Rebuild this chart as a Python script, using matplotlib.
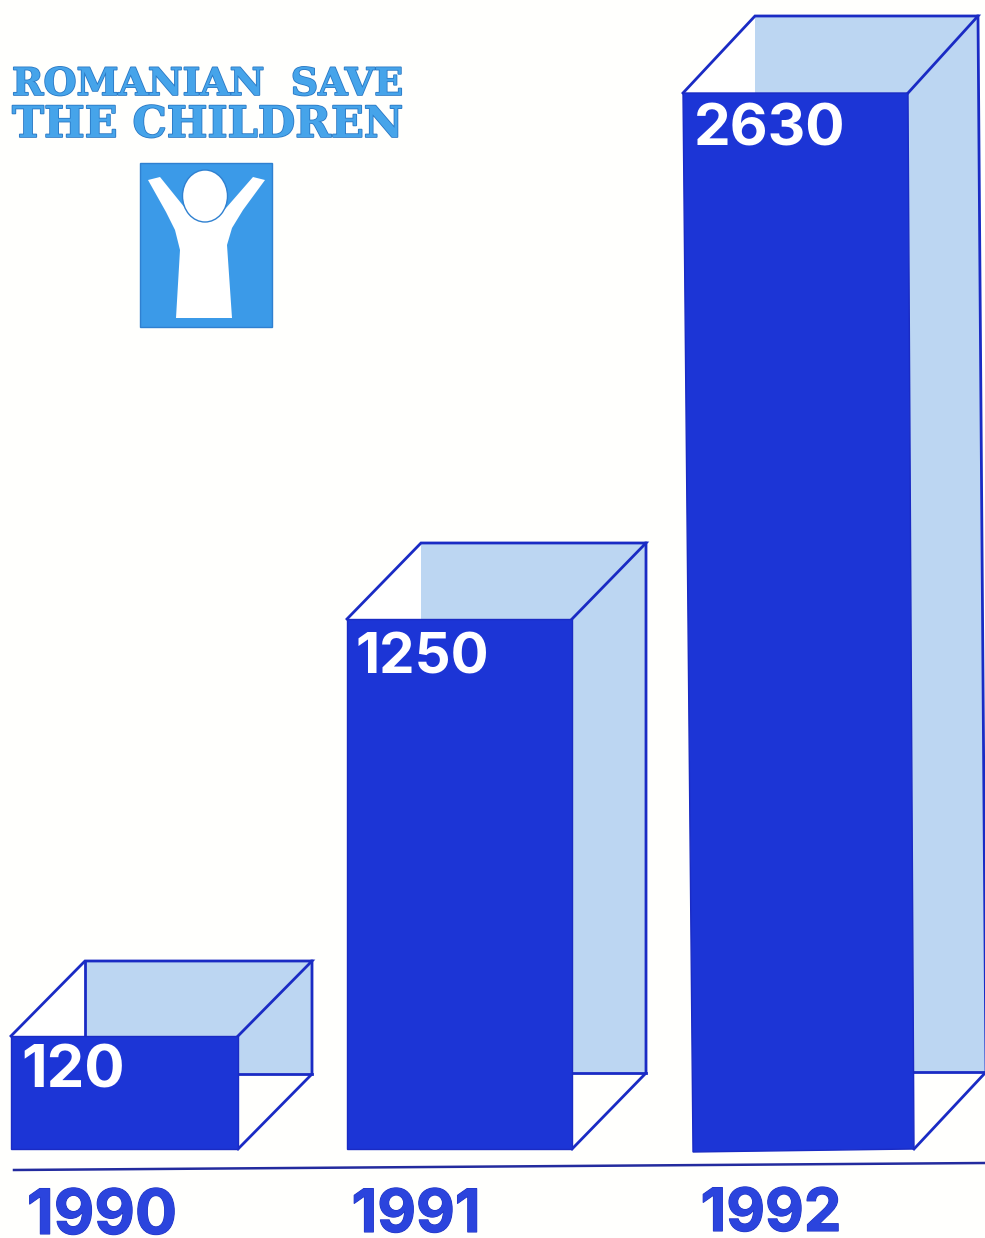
import matplotlib
matplotlib.use("Agg")
import matplotlib.pyplot as plt
import matplotlib.patheffects as pe
from matplotlib.patches import Polygon, Ellipse, Rectangle

# ---- data ----
years = ["1990", "1991", "1992"]
values = [120, 1250, 2630]
# the printed bars are not to scale: heights as drawn
drawn_heights = [113, 530, 1056]
title_lines = ["ROMANIAN  SAVE", "THE CHILDREN"]

# ---- layout ----
W, H = 985, 1238
BASE_PX = 1149
slot = 336
first_left = 11
bar_widths = [227, 225, 225]
lean_left = [0, 0, 10]      # the third bar is printed slightly askew
lean_right = [0, 0, 6]
drop = [0, 0, 3]
depth_x = [74, 74, 72]
depth_y = [75, 76, 77]
rear_edge = [True, False, False]
label_x = [21, 356, 694]
label_py = [1087, 674, 146]
label_size = [43, 40.5, 42]
year_x = [102, 416, 771]
year_py = [1234, 1232, 1231]
year_size = [45, 43, 43]

FRONT = "#1c35d6"
EDGE = "#1a2bc4"
SIDE = "#bcd6f2"
LOGO = "#3b9ae8"
RULE = "#232b9e"
YEAR = "#2b44dd"

fig = plt.figure(figsize=(W / 100, H / 100), dpi=100, facecolor="#fffffd")
ax = fig.add_axes([0, 0, 1, 1])
ax.set_xlim(0, W)
ax.set_ylim(BASE_PX - H, BASE_PX)
ax.axis("off")


def Y(py):
    return BASE_PX - py


for i, (yr, val, h) in enumerate(zip(years, values, drawn_heights)):
    left = first_left + i * slot
    w = bar_widths[i]
    dx, dy = depth_x[i], depth_y[i]
    bot = -drop[i]
    top = h
    tl = (left, top)
    tr = (left + w, top)
    bl = (left + lean_left[i], bot)
    br = (left + w + lean_right[i], bot + drop[i])
    b_tl = (tl[0] + dx, top + dy)
    b_tr = (tr[0] + dx - 2 * (i == 2), top + dy)
    b_br = (br[0] + dx, br[1] + dy)
    front_floor_y = br[1] + dy

    # rear and side panels
    ax.add_patch(Polygon([b_tl, b_tr, b_br, (tr[0], front_floor_y), tr, tl],
                         closed=True, fc=SIDE, ec="none", zorder=1))
    ax.add_patch(Polygon([tl, b_tl, (b_tl[0], top)], closed=True, fc="white", ec="none", zorder=1.1))
    # wireframe
    lw = 2.0
    ax.plot([tl[0], b_tl[0], b_tr[0], tr[0]], [tl[1], b_tl[1], b_tr[1], tr[1]],
            color=EDGE, lw=lw, zorder=2, solid_joinstyle="miter")
    ax.plot([b_tr[0], b_br[0], br[0]], [b_tr[1], b_br[1], br[1]],
            color=EDGE, lw=lw, zorder=2)
    ax.plot([tr[0], b_br[0]], [front_floor_y, b_br[1]], color=EDGE, lw=lw, zorder=2)
    if rear_edge[i]:
        ax.plot([b_tl[0], b_tl[0]], [b_tl[1], top], color=EDGE, lw=lw, zorder=2)
    # front face
    ax.add_patch(Polygon([tl, tr, br, bl], closed=True, fc=FRONT, ec=EDGE, lw=1, zorder=3))
    # value label
    ax.text(label_x[i], Y(label_py[i]), f"{val}", color="white", family="Inter",
            fontweight="bold", fontsize=label_size[i], ha="left", va="baseline", zorder=4)
    # year label
    ax.text(year_x[i], Y(year_py[i]), yr, color=YEAR, family="Inter",
            fontweight="bold", fontsize=year_size[i], ha="center", va="baseline", zorder=4,
            path_effects=[pe.withStroke(linewidth=0.8, foreground="#1f33c0")])

# baseline rule
ax.plot([14, 985], [Y(1170), Y(1163)], color=RULE, lw=1.8, zorder=2)

# organisation name
stroke = [pe.withStroke(linewidth=1.2, foreground="#2a78c4")]
ax.text(12, Y(95), title_lines[0], family="DejaVu Serif", fontweight="bold", fontsize=27.3,
        color="#46a4ea", ha="left", va="baseline", path_effects=stroke)
ax.text(12, Y(137), title_lines[1], family="DejaVu Serif", fontweight="bold", fontsize=31,
        color="#46a4ea", ha="left", va="baseline", path_effects=stroke)

# emblem
ax.add_patch(Rectangle((140, Y(327)), 132, 164, fc=LOGO, ec="#2f80d0", lw=1, zorder=1))
body = [(148, 180), (160, 177), (185, 208), (205, 222), (226, 208), (253, 177), (265, 180),
        (243, 210), (232, 228), (227, 245), (232, 318), (176, 318), (180, 250), (175, 230), (166, 212)]
ax.add_patch(Polygon([(x, Y(p)) for x, p in body], closed=True, fc="white", ec="none", zorder=2))
ax.add_patch(Ellipse((205, Y(196)), 45, 52, fc="white", ec="#2f80d0", lw=1, zorder=3))

fig.savefig("out.png", dpi=100, facecolor=fig.get_facecolor())
